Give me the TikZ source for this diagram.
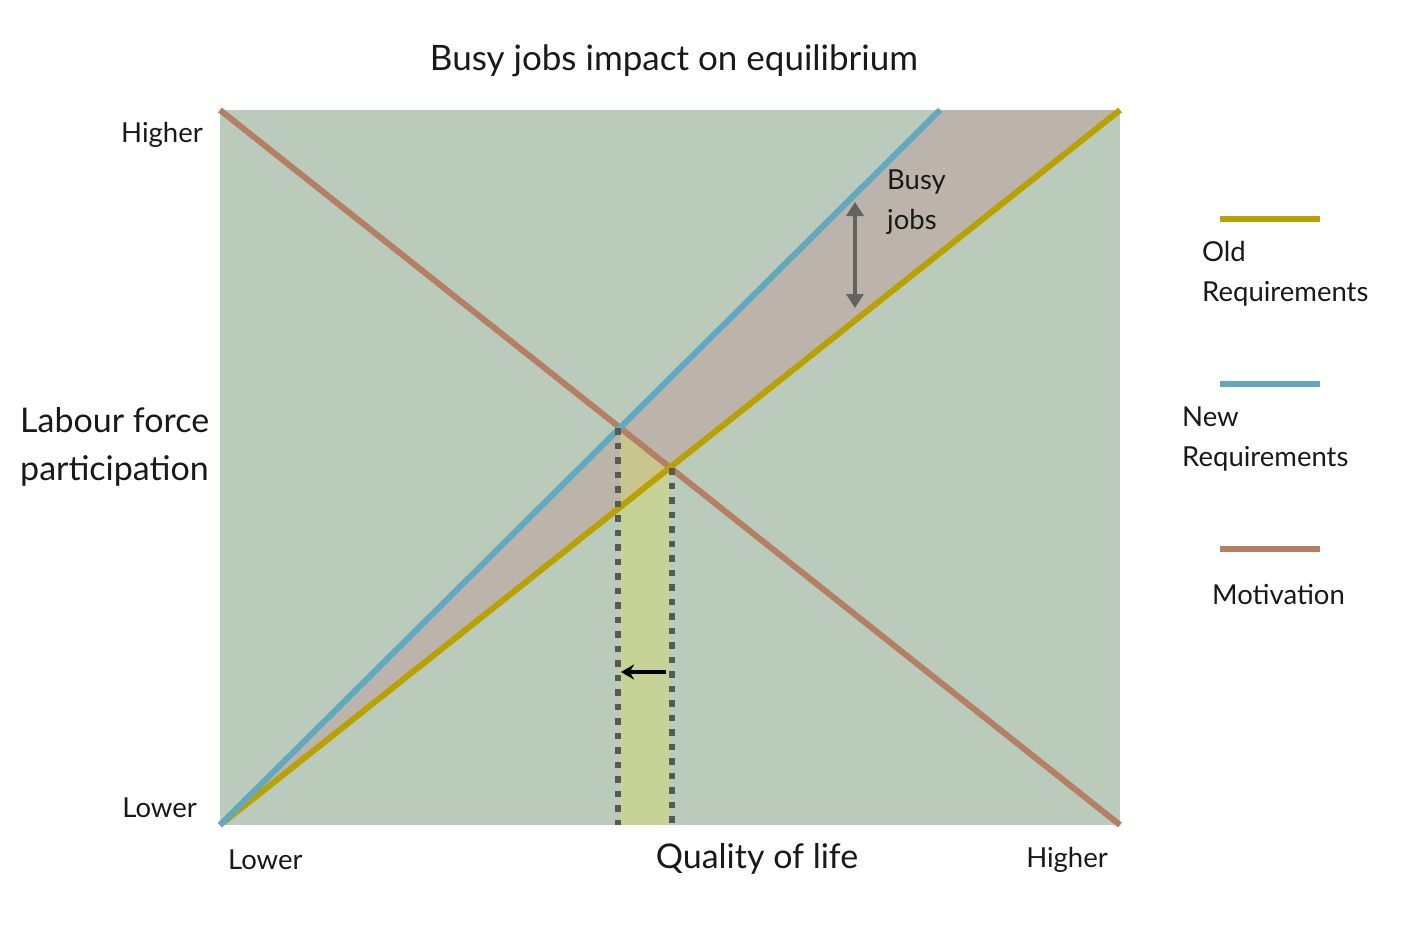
\documentclass[tikz,border=0pt]{standalone}
\usepackage{fontspec}
\setmainfont{Lato}
\usetikzlibrary{arrows.meta}
\definecolor{bgreen}{HTML}{BACBBB}
\definecolor{bandc}{HTML}{BCB4AA}
\definecolor{oldc}{HTML}{B9A200}
\definecolor{newc}{HTML}{63A8C1}
\definecolor{motc}{HTML}{B47F62}
\definecolor{yelc}{HTML}{D8DC6A}
\definecolor{dotc}{HTML}{555A55}
\definecolor{busyc}{HTML}{626260}
\tikzset{
  curve/.style={line width=6pt},
  lbl/.style={inner sep=0pt, font=\fontsize{27.5}{40}\selectfont, text=black!90},
  biglbl/.style={inner sep=0pt, font=\fontsize{34}{48}\selectfont, text=black!90},
  dotline/.style={dotc, line width=6pt, dash pattern=on 6.5pt off 8pt},
}
\begin{document}
\begin{tikzpicture}[x=1pt,y=-1pt]
\useasboundingbox (0,0) rectangle (1420,935);
% plot area
\fill[bgreen] (220,110) rectangle (1120,825);
\coordinate (bl) at (220,825);
\coordinate (tl) at (220,110);
\coordinate (br) at (1120,825);
\coordinate (tr) at (1120,110);
\coordinate (ntop) at (940,110);
\coordinate (iN) at (620,427.8);
\coordinate (iO) at (670,467.5);
\coordinate (bN) at (620,825);
\coordinate (bO) at (670,825);
% band between new and old requirements
\fill[bandc] (bl) -- (ntop) -- (tr) -- cycle;
% yellow shift band
\fill[yelc, opacity=0.45] (bN) -- (iN) -- (iO) -- (bO) -- cycle;
% curves
\draw[curve, motc] (tl) -- (br);
\draw[curve, oldc] (bl) -- (tr);
\draw[curve, newc] (bl) -- (ntop);
% dotted drop lines
\draw[dotline] (618,428) -- (618,825);
\draw[dotline] (672,468) -- (672,825);
% shift arrow
\coordinate (sa) at (666,672);
\coordinate (sb) at (621,672);
\draw[line width=4pt, -{Stealth[length=13pt,width=15pt]}] (sa) -- (sb);
% busy jobs arrow
\coordinate (ba) at (855,202);
\coordinate (bb) at (855,308);
\draw[busyc, line width=3.5pt, {Triangle[length=14pt,width=17pt]}-{Triangle[length=14pt,width=17pt]}] (ba) -- (bb);
\node[lbl, anchor=north west, align=left] (busy) at (887,170) {Busy\\jobs};
% title
\node[inner sep=0pt, font=\fontsize{35}{40}\selectfont, text=black!90] (title) at (674,61) {Busy jobs impact on equilibrium};
% axes labels
\node[lbl, anchor=east] (yhi) at (203,135) {Higher};
\node[lbl, anchor=east] (ylo) at (197,808) {Lower};
\node[biglbl, anchor=west, align=left] (ylab) at (20,447) {Labour force\\participation};
\node[lbl, anchor=west] (xlo) at (228,860) {Lower};
\node[lbl, anchor=east] (xhi) at (1108,860) {Higher};
\node[biglbl] (xlab) at (757,859) {Quality of life};
% legend
\coordinate (l1a) at (1220,219); \coordinate (l1b) at (1320,219);
\coordinate (l2a) at (1220,384); \coordinate (l2b) at (1320,384);
\coordinate (l3a) at (1220,549); \coordinate (l3b) at (1320,549);
\draw[curve, oldc] (l1a) -- (l1b);
\draw[curve, newc] (l2a) -- (l2b);
\draw[curve, motc] (l3a) -- (l3b);
\node[lbl, anchor=north west, align=left] (lold) at (1202,241) {Old\\Requirements};
\node[lbl, anchor=north west, align=left] (lnew) at (1182,407) {New\\Requirements};
\node[lbl, anchor=west] (lmot) at (1212,595) {Motivation};
\end{tikzpicture}
\end{document}
